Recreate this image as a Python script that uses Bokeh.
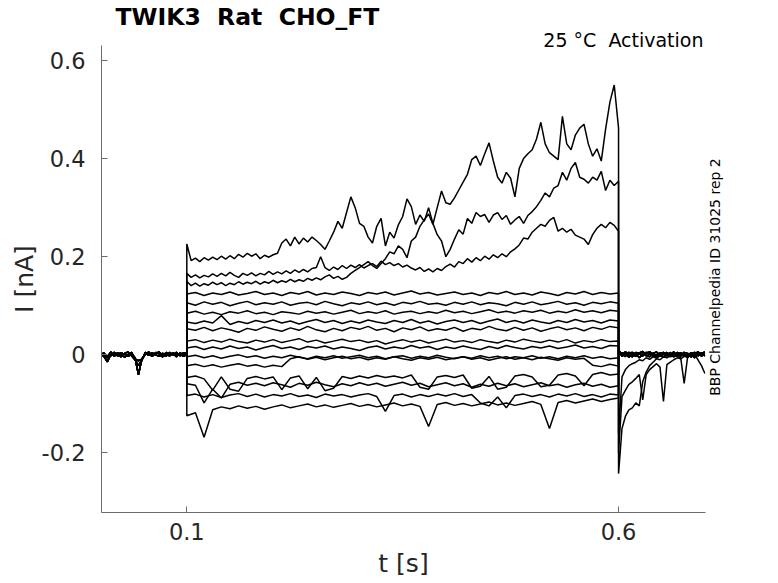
import numpy as np
from math import pi
from bokeh.plotting import figure
from bokeh.models import Range1d, FixedTicker, Title, LinearAxis, CustomJSTickFormatter
from bokeh.embed import file_html
from bokeh.resources import INLINE

# ---------------- data (current in nA, time in s) ----------------
t_pre = np.round(np.arange(26) * 0.004, 4)            # 0 .. 0.1 s
t_fine = np.round(0.1 + np.arange(101) * 0.005, 4)     # 0.1 .. 0.6 s
t_coarse = np.round(0.1 + np.arange(51) * 0.01, 4)     # 0.1 .. 0.6 s
t_post = np.round(0.6 + np.arange(26) * 0.004, 4)      # 0.6 .. 0.7 s

pre_a = [0.002, -0.003, -0.014, 0.001, 0.003, -0.002, 0.004, 0.001, -0.003, 0.002,
         -0.006, -0.040, -0.008, 0.003, -0.001, 0.004, 0.000, -0.003, 0.003, 0.001,
         -0.002, 0.004, -0.001, 0.002, -0.003, 0.001]
pre_b = [-0.003, 0.004, -0.006, -0.002, 0.005, 0.001, -0.004, 0.003, 0.006, -0.002,
         -0.010, -0.022, -0.011, 0.005, 0.002, -0.003, 0.005, 0.002, -0.004, 0.005,
         -0.001, 0.003, -0.004, 0.004, 0.001, -0.002]
pre_c = [0.005, 0.000, -0.004, 0.006, -0.003, 0.004, 0.002, -0.005, 0.001, 0.005,
         -0.008, -0.012, -0.009, 0.001, 0.006, -0.002, 0.003, 0.006, -0.001, -0.003,
         0.005, 0.000, 0.005, -0.002, 0.004, 0.003]

post_a = [0.006, 0.004, -0.002, 0.005, 0.001, -0.003, 0.004, 0.007, 0.000, -0.004,
          0.003, 0.006, -0.002, 0.002, 0.005, -0.003, 0.004, 0.001, -0.002, 0.005,
          0.003, -0.004, 0.002, 0.006, 0.000, 0.003]
post_b = [0.010, -0.003, 0.003, -0.005, 0.004, 0.002, -0.006, 0.001, 0.005, 0.002,
          -0.003, 0.000, 0.004, -0.005, 0.001, 0.003, -0.004, 0.005, 0.002, -0.003,
          0.000, 0.004, -0.006, 0.001, 0.004, -0.002]
post_c = [0.004, 0.001, 0.006, 0.000, -0.004, 0.005, 0.003, -0.002, 0.004, 0.006,
          0.001, -0.005, 0.003, 0.005, -0.002, 0.000, 0.006, -0.003, 0.004, 0.001,
          -0.005, 0.003, 0.005, -0.002, 0.003, 0.006]
post_d = [0.008, 0.002, -0.004, 0.003, 0.006, -0.002, 0.001, 0.005, -0.003, 0.002,
          0.004, -0.001, 0.003, -0.004, 0.002, 0.005, -0.002, 0.001, 0.004, -0.003,
          0.002, -0.005, 0.001, -0.010, -0.022, -0.038]
tail_big = [-0.242, -0.150, -0.125, -0.112, -0.108, -0.098, -0.104, -0.055, -0.035, -0.022,
            -0.015, -0.008, -0.010, -0.004, -0.006, -0.002, -0.004, 0.001, -0.003, 0.002,
            -0.002, 0.003, -0.001, 0.002, -0.003, 0.001]
tail_mid = [-0.200, -0.085, -0.072, -0.060, -0.055, -0.048, -0.040, -0.092, -0.040, -0.030,
            -0.024, -0.018, -0.025, -0.095, -0.020, -0.015, -0.010, -0.006, -0.008, -0.003,
            -0.005, 0.000, -0.004, 0.002, -0.002, 0.001]
tail_small = [-0.160, -0.045, -0.030, -0.022, -0.018, -0.015, -0.010, -0.012, -0.006, -0.009,
              -0.004, -0.007, -0.002, -0.005, -0.001, -0.004, -0.002, -0.003, -0.006, -0.058,
              -0.004, 0.001, -0.003, 0.002, -0.002, 0.000]

# step currents, 5 ms sampling (three growing sweeps)
sweep_01 = [0.226, 0.192, 0.197, 0.190, 0.198, 0.193, 0.199, 0.194, 0.201, 0.195,
            0.202, 0.196, 0.205, 0.199, 0.207, 0.201, 0.206, 0.196, 0.203, 0.199,
            0.204, 0.207, 0.228, 0.236, 0.222, 0.240, 0.226, 0.238, 0.230, 0.240,
            0.233, 0.225, 0.215, 0.232, 0.250, 0.272, 0.258, 0.290, 0.322, 0.300,
            0.268, 0.262, 0.240, 0.228, 0.262, 0.278, 0.222, 0.250, 0.238, 0.265,
            0.282, 0.318, 0.302, 0.266, 0.285, 0.272, 0.300, 0.268, 0.245, 0.232,
            0.200, 0.215, 0.236, 0.255, 0.246, 0.278, 0.268, 0.290, 0.282, 0.286,
            0.270, 0.285, 0.290, 0.276, 0.284, 0.266, 0.275, 0.282, 0.268, 0.284,
            0.292, 0.302, 0.315, 0.330, 0.322, 0.340, 0.345, 0.372, 0.356, 0.380,
            0.392, 0.362, 0.358, 0.350, 0.362, 0.356, 0.374, 0.335, 0.356, 0.345,
            0.354]
sweep_02 = [0.166, 0.158, 0.163, 0.157, 0.162, 0.159, 0.165, 0.160, 0.166, 0.161,
            0.168, 0.162, 0.158, 0.166, 0.162, 0.167, 0.161, 0.166, 0.163, 0.170,
            0.164, 0.169, 0.165, 0.171, 0.166, 0.173, 0.168, 0.174, 0.169, 0.176,
            0.178, 0.200, 0.178, 0.172, 0.179, 0.174, 0.182, 0.176, 0.183, 0.178,
            0.184, 0.177, 0.182, 0.186, 0.180, 0.191, 0.184, 0.188, 0.182, 0.186,
            0.179, 0.183, 0.177, 0.173, 0.178, 0.170, 0.175, 0.169, 0.176, 0.172,
            0.180, 0.185, 0.179, 0.190, 0.186, 0.196, 0.189, 0.198, 0.192, 0.201,
            0.195, 0.204, 0.198, 0.206, 0.200, 0.210, 0.216, 0.224, 0.238, 0.236,
            0.250, 0.258, 0.266, 0.262, 0.274, 0.280, 0.252, 0.258, 0.250, 0.256,
            0.244, 0.240, 0.236, 0.225, 0.245, 0.258, 0.266, 0.259, 0.270, 0.264,
            0.252]
sweep_03 = [0.150, 0.141, 0.146, 0.140, 0.145, 0.142, 0.148, 0.143, 0.147, 0.141,
            0.146, 0.143, 0.149, 0.144, 0.148, 0.145, 0.150, 0.144, 0.149, 0.146,
            0.152, 0.147, 0.151, 0.148, 0.154, 0.149, 0.153, 0.150, 0.156, 0.152,
            0.157, 0.153, 0.159, 0.163, 0.156, 0.160, 0.154, 0.158, 0.166, 0.172,
            0.178, 0.184, 0.190, 0.182, 0.176, 0.186, 0.196, 0.210, 0.206, 0.222,
            0.215, 0.198, 0.232, 0.240, 0.262, 0.275, 0.287, 0.266, 0.300, 0.334,
            0.310, 0.307, 0.320, 0.336, 0.352, 0.368, 0.398, 0.405, 0.386, 0.410,
            0.432, 0.395, 0.362, 0.350, 0.372, 0.360, 0.322, 0.380, 0.400, 0.410,
            0.418, 0.440, 0.474, 0.430, 0.412, 0.405, 0.398, 0.486, 0.430, 0.418,
            0.448, 0.462, 0.470, 0.430, 0.405, 0.420, 0.395, 0.460, 0.515, 0.550,
            0.462]

# step currents, 10 ms sampling (flat sweeps)
sweep_04 = [0.124, 0.127, 0.121, 0.126, 0.123, 0.128, 0.122, 0.125, 0.129, 0.123,
            0.126, 0.121, 0.127, 0.124, 0.129, 0.122, 0.126, 0.123, 0.128, 0.125,
            0.121, 0.127, 0.124, 0.128, 0.122, 0.126, 0.130, 0.124, 0.127, 0.122,
            0.125, 0.128, 0.123, 0.126, 0.121, 0.127, 0.124, 0.129, 0.123, 0.126,
            0.122, 0.128, 0.125, 0.121, 0.127, 0.124, 0.129, 0.123, 0.127, 0.124,
            0.126]
sweep_05 = [0.106, 0.101, 0.108, 0.103, 0.107, 0.100, 0.105, 0.109, 0.102, 0.106,
            0.103, 0.108, 0.101, 0.105, 0.107, 0.102, 0.109, 0.104, 0.100, 0.106,
            0.103, 0.108, 0.102, 0.106, 0.101, 0.107, 0.104, 0.109, 0.103, 0.105,
            0.101, 0.107, 0.103, 0.108, 0.102, 0.106, 0.104, 0.100, 0.107, 0.103,
            0.108, 0.102, 0.105, 0.109, 0.103, 0.106, 0.101, 0.107, 0.104, 0.108,
            0.105]
sweep_06 = [0.085, 0.089, 0.083, 0.087, 0.082, 0.088, 0.085, 0.090, 0.084, 0.087,
            0.082, 0.088, 0.086, 0.083, 0.089, 0.085, 0.088, 0.083, 0.087, 0.091,
            0.084, 0.088, 0.085, 0.090, 0.083, 0.087, 0.089, 0.084, 0.088, 0.085,
            0.091, 0.086, 0.089, 0.084, 0.088, 0.092, 0.086, 0.089, 0.085, 0.090,
            0.087, 0.091, 0.085, 0.089, 0.086, 0.092, 0.087, 0.090, 0.086, 0.091,
            0.089]
sweep_07 = [0.067, 0.064, 0.069, 0.065, 0.080, 0.062, 0.068, 0.064, 0.070, 0.066,
            0.071, 0.065, 0.069, 0.063, 0.068, 0.072, 0.066, 0.070, 0.064, 0.069,
            0.065, 0.071, 0.067, 0.064, 0.070, 0.066, 0.072, 0.065, 0.069, 0.063,
            0.068, 0.071, 0.066, 0.070, 0.064, 0.069, 0.073, 0.066, 0.070, 0.065,
            0.071, 0.067, 0.064, 0.070, 0.066, 0.072, 0.067, 0.070, 0.065, 0.071,
            0.069]
sweep_08 = [0.053, 0.050, 0.056, 0.049, 0.055, 0.051, 0.046, 0.054, 0.050, 0.057,
            0.052, 0.048, 0.055, 0.050, 0.058, 0.051, 0.047, 0.054, 0.049, 0.056,
            0.052, 0.058, 0.050, 0.054, 0.047, 0.055, 0.051, 0.057, 0.049, 0.053,
            0.050, 0.056, 0.048, 0.054, 0.051, 0.058, 0.052, 0.049, 0.056, 0.050,
            0.055, 0.048, 0.053, 0.057, 0.051, 0.055, 0.049, 0.056, 0.052, 0.058,
            0.055]
sweep_09 = [0.028, 0.031, 0.025, 0.030, 0.026, 0.032, 0.027, 0.024, 0.030, 0.026,
            0.031, 0.025, 0.029, 0.033, 0.026, 0.030, 0.024, 0.028, 0.032, 0.027,
            0.030, 0.025, 0.029, 0.022, 0.027, 0.031, 0.026, 0.030, 0.024, 0.028,
            0.032, 0.026, 0.029, 0.025, 0.031, 0.027, 0.024, 0.030, 0.026, 0.032,
            0.028, 0.025, 0.030, 0.026, 0.031, 0.024, 0.029, 0.026, 0.031, 0.027,
            0.028]
sweep_10 = [0.014, 0.017, 0.011, 0.016, 0.012, 0.018, 0.013, 0.016, 0.010, 0.015,
            0.019, 0.013, 0.016, 0.011, 0.017, 0.014, 0.018, 0.012, 0.016, 0.013,
            0.009, 0.015, 0.018, 0.012, 0.016, 0.013, 0.019, 0.014, 0.017, 0.011,
            0.016, 0.013, 0.018, 0.014, 0.011, 0.017, 0.013, 0.019, 0.015, 0.012,
            0.017, 0.014, 0.018, 0.013, 0.016, 0.020, 0.014, 0.017, 0.013, 0.019,
            0.018]
sweep_11 = [-0.004, -0.001, -0.006, -0.002, -0.007, -0.003, 0.000, -0.005, -0.002, -0.007,
            -0.003, -0.006, -0.001, -0.005, -0.008, -0.003, -0.006, -0.002, -0.007, -0.004,
            -0.001, -0.006, -0.003, -0.008, -0.004, -0.002, -0.007, -0.003, -0.006, -0.001,
            -0.005, -0.008, -0.004, -0.007, -0.002, -0.006, -0.003, -0.008, -0.004, -0.006,
            -0.002, -0.007, -0.004, -0.008, -0.003, -0.006, -0.002, -0.007, -0.004, -0.008,
            -0.006]
sweep_12 = [-0.022, -0.019, -0.024, -0.020, -0.025, -0.021, -0.018, -0.023, -0.020, -0.025,
            -0.021, -0.024, -0.008, -0.004, -0.009, -0.005, -0.010, -0.006, -0.003, -0.008,
            -0.005, -0.010, -0.006, -0.009, -0.004, -0.008, -0.011, -0.006, -0.009, -0.005,
            -0.010, -0.007, -0.004, -0.009, -0.006, -0.011, -0.007, -0.004, -0.009, -0.006,
            -0.010, -0.005, -0.008, -0.011, -0.006, -0.009, -0.007, -0.021, -0.024, -0.019,
            -0.023]
sweep_13 = [-0.046, -0.043, -0.049, -0.072, -0.045, -0.070, -0.074, -0.048, -0.044, -0.049,
            -0.045, -0.071, -0.047, -0.043, -0.069, -0.046, -0.073, -0.068, -0.044, -0.048,
            -0.043, -0.047, -0.042, -0.046, -0.043, -0.047, -0.041, -0.066, -0.070, -0.045,
            -0.042, -0.046, -0.041, -0.068, -0.064, -0.044, -0.070, -0.066, -0.043, -0.040,
            -0.045, -0.065, -0.062, -0.041, -0.038, -0.043, -0.063, -0.040, -0.036, -0.041,
            -0.039]
sweep_14 = [-0.059, -0.062, -0.098, -0.070, -0.088, -0.060, -0.056, -0.062, -0.058, -0.063,
            -0.057, -0.061, -0.066, -0.058, -0.062, -0.056, -0.061, -0.065, -0.059, -0.063,
            -0.057, -0.062, -0.058, -0.064, -0.060, -0.056, -0.062, -0.058, -0.065, -0.061,
            -0.057, -0.063, -0.059, -0.066, -0.060, -0.064, -0.058, -0.063, -0.059, -0.065,
            -0.061, -0.057, -0.063, -0.060, -0.066, -0.061, -0.058, -0.064, -0.060, -0.066,
            -0.063]
sweep_15 = [-0.083, -0.080, -0.086, -0.081, -0.087, -0.082, -0.079, -0.085, -0.080, -0.086,
            -0.081, -0.084, -0.079, -0.085, -0.082, -0.087, -0.080, -0.084, -0.081, -0.086,
            -0.082, -0.079, -0.085, -0.115, -0.083, -0.080, -0.086, -0.081, -0.085, -0.080,
            -0.084, -0.079, -0.085, -0.081, -0.098, -0.104, -0.086, -0.108, -0.083, -0.080,
            -0.085, -0.081, -0.086, -0.080, -0.084, -0.079, -0.085, -0.081, -0.086, -0.080,
            -0.082]
sweep_16 = [-0.124, -0.118, -0.168, -0.112, -0.106, -0.110, -0.104, -0.109, -0.105, -0.111,
            -0.106, -0.102, -0.108, -0.104, -0.100, -0.106, -0.102, -0.107, -0.103, -0.099,
            -0.105, -0.101, -0.106, -0.102, -0.098, -0.104, -0.100, -0.105, -0.146, -0.101,
            -0.097, -0.103, -0.099, -0.104, -0.100, -0.096, -0.102, -0.098, -0.103, -0.099,
            -0.095, -0.101, -0.150, -0.097, -0.093, -0.098, -0.094, -0.090, -0.095, -0.091,
            -0.088]

x_ticks = [0.1, 0.6]
y_ticks = [-0.2, 0, 0.2, 0.4, 0.6]
side_note_start = [-0.0834]   # the vertical side note starts at this current level

# (pre-pulse baseline, step sweep, step time base, tail)
sweeps = [
    (pre_a, sweep_01, t_fine, tail_mid),
    (pre_b, sweep_02, t_fine, tail_small),
    (pre_c, sweep_03, t_fine, tail_big),
    (pre_a, sweep_04, t_coarse, post_a),
    (pre_b, sweep_05, t_coarse, post_b),
    (pre_c, sweep_06, t_coarse, post_c),
    (pre_a, sweep_07, t_coarse, post_b),
    (pre_b, sweep_08, t_coarse, post_c),
    (pre_c, sweep_09, t_coarse, post_a),
    (pre_a, sweep_10, t_coarse, post_c),
    (pre_b, sweep_11, t_coarse, post_a),
    (pre_c, sweep_12, t_coarse, post_b),
    (pre_a, sweep_13, t_coarse, post_d),
    (pre_b, sweep_14, t_coarse, post_a),
    (pre_c, sweep_15, t_coarse, post_c),
    (pre_a, sweep_16, t_coarse, post_b),
]

xs, ys = [], []
for pre, step, tstep, post in sweeps:
    assert len(pre) == len(t_pre) and len(step) == len(tstep) and len(post) == len(t_post)
    xs.append(np.concatenate([t_pre, tstep, t_post]).tolist())
    ys.append(list(pre) + list(step) + list(post))

# ---------------- figure ----------------
FONT = "DejaVu Sans"
AX = "#6b6b6b"
TXT = "#262626"

p = figure(width=778, height=583, output_backend="svg", toolbar_location=None, title=None,
           x_range=Range1d(0.0012, 0.7007), y_range=Range1d(-0.3213, 0.6305),
           min_border_left=101, min_border_right=73, min_border_top=44, min_border_bottom=71)
p.outline_line_color = None
p.grid.visible = False
p.background_fill_color = "white"
p.border_fill_color = "white"

p.multi_line(xs, ys, line_color="black", line_width=1.5)

fmt = CustomJSTickFormatter(code="return (tick === 0) ? '0' : tick.toFixed(1)")
for ax, ticks in ((p.xaxis, x_ticks), (p.yaxis, y_ticks)):
    ax.ticker = FixedTicker(ticks=ticks)
    ax.formatter = fmt
    ax.axis_line_color = AX
    ax.axis_line_width = 1
    ax.major_tick_line_color = AX
    ax.major_tick_in = 6
    ax.major_tick_out = 0
    ax.minor_tick_in = 0
    ax.minor_tick_out = 0
    ax.major_label_text_font = FONT
    ax.major_label_text_font_size = "22.5px"
    ax.major_label_text_color = TXT
    ax.axis_label_text_font = FONT
    ax.axis_label_text_font_size = "25px"
    ax.axis_label_text_font_style = "normal"
    ax.axis_label_text_color = TXT

p.xaxis.major_label_standoff = 10
p.xaxis.axis_label = "t [s]"
p.xaxis.axis_label_standoff = 6
p.yaxis.major_label_standoff = 16
p.yaxis.axis_label = "I [nA]"
p.yaxis.axis_label_standoff = 0

# side note on the right, written as the single tick label of an extra axis
note = LinearAxis(ticker=FixedTicker(ticks=side_note_start),
                  formatter=CustomJSTickFormatter(code="return 'BBP Channelpedia ID 31025 rep 2'"),
                  axis_line_color=None, major_tick_line_color=None, minor_tick_line_color=None,
                  major_label_orientation=pi / 2, major_label_standoff=4,
                  major_label_text_font=FONT, major_label_text_font_size="14px",
                  major_label_text_color="black")
p.add_layout(note, "right")

sub = Title(text="25 °C \u00a0Activation", align="right", offset=2, standoff=-11.2,
            text_font=FONT, text_font_size="19px", text_font_style="normal",
            text_color="black")
main = Title(text="TWIK3 \u00a0Rat \u00a0CHO_FT", align="left", offset=14, standoff=2.2,
             text_font=FONT, text_font_size="23.5px", text_font_style="bold",
             text_color="black")
p.add_layout(sub, "above")
p.add_layout(main, "above")

open("out.html", "w").write(file_html(p, INLINE))
